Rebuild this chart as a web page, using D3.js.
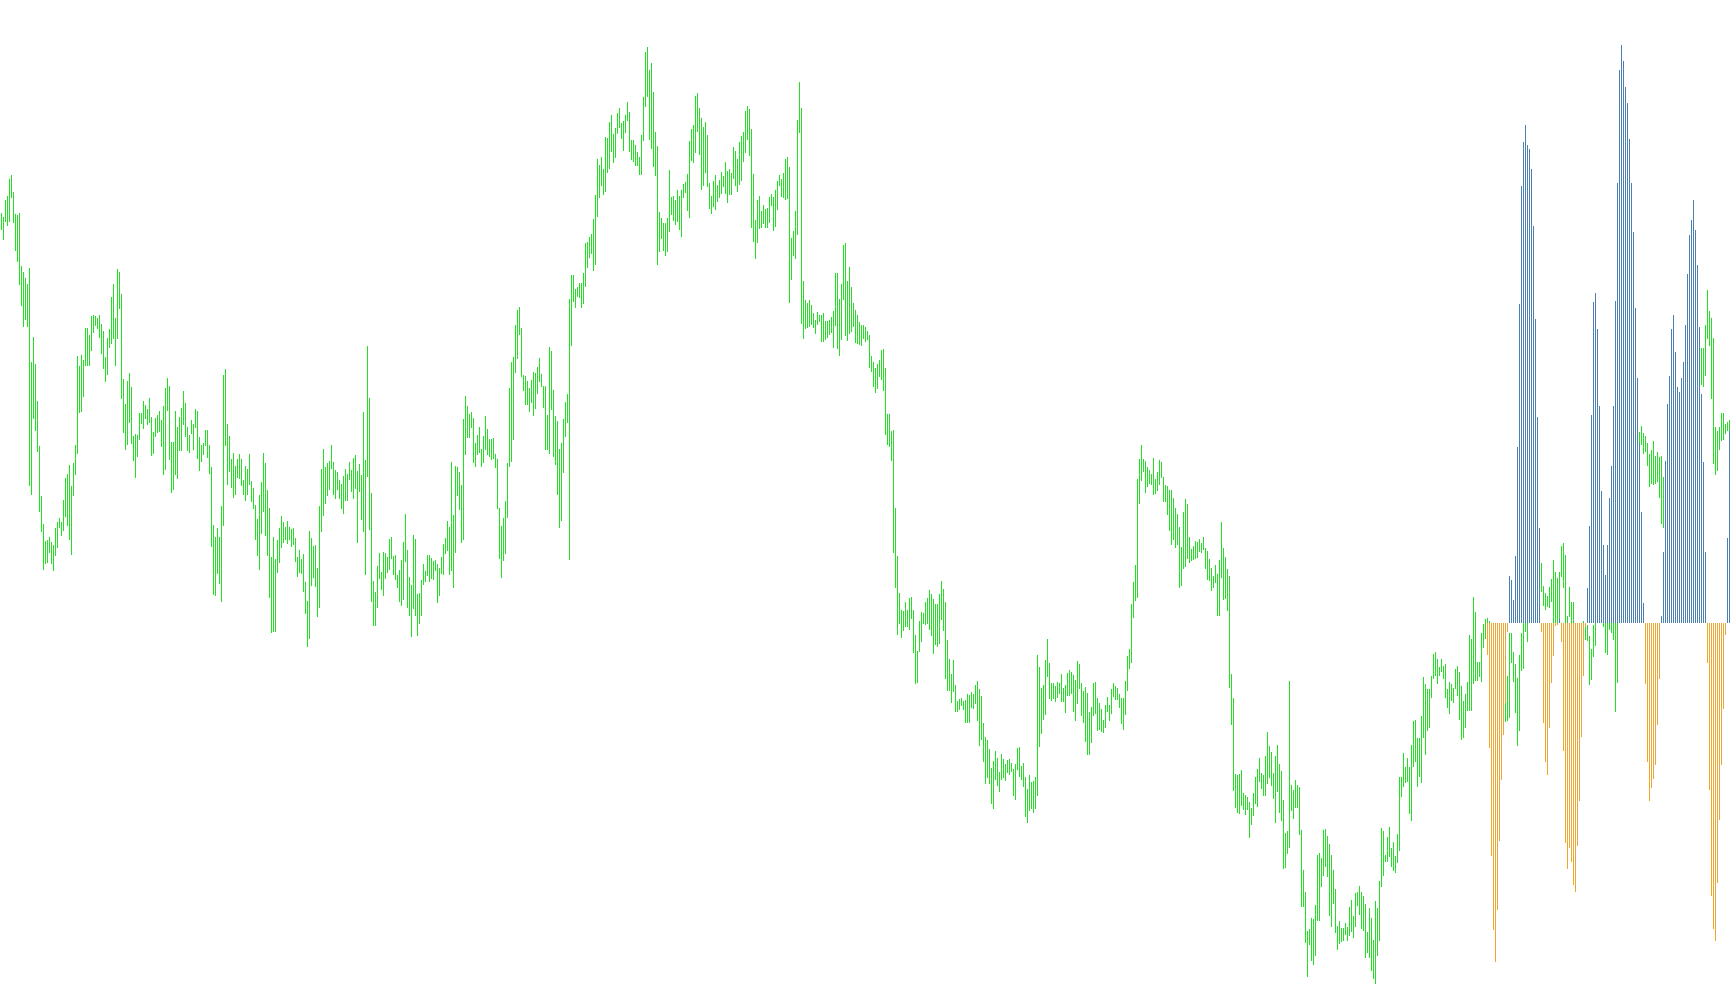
<!DOCTYPE html>
<html><head><meta charset="utf-8">
<script src="https://cdn.jsdelivr.net/npm/d3@7"></script>
<style>html,body{margin:0;padding:0;background:#fff;overflow:hidden}</style>
</head><body>
<svg id="chart" width="1730" height="1005"></svg>
<script>
// Daily high / low of the price series (one entry per bar)
const highs = [
2375,2363,2415,2427,2478,2490,2439,2373,2370,2376,
2217,2199,2181,2163,2211,1929,2004,1923,1812,1677,
1527,1443,1392,1395,1404,1389,1380,1431,1449,1461,
1449,1515,1581,1593,1620,1557,1626,1680,1947,1917,
1950,1935,2031,2031,2010,2067,2070,2067,2061,2070,
2043,2022,1944,2001,2028,2124,2163,2061,2208,2199,
2133,1878,1803,1872,1896,1854,1707,1713,1710,1776,
1776,1812,1800,1788,1821,1764,1719,1761,1770,1782,
1755,1797,1851,1881,1857,1689,1689,1782,1734,1764,
1791,1842,1806,1734,1710,1755,1743,1788,1782,1704,
1680,1686,1725,1725,1680,1614,1440,1404,1431,1404,
1497,1890,1908,1743,1707,1638,1656,1617,1638,1653,
1638,1575,1617,1608,1653,1572,1551,1500,1458,1530,
1569,1656,1626,1545,1491,1344,1404,1338,1395,1431,
1467,1449,1434,1452,1434,1428,1431,1401,1344,1365,
1338,1353,1269,1212,1422,1401,1377,1380,1311,1497,
1608,1668,1614,1626,1632,1680,1629,1605,1599,1575,
1563,1587,1608,1593,1629,1605,1641,1650,1602,1623,
1590,1779,1635,1977,1821,1536,1272,1239,1317,1356,
1299,1359,1356,1344,1398,1404,1347,1350,1290,1305,
1335,1389,1473,1365,1284,1260,1410,1398,1233,1236,
1275,1323,1302,1350,1350,1341,1332,1335,1323,1311,
1344,1383,1401,1452,1434,1629,1470,1617,1614,1599,
1560,1758,1827,1797,1773,1779,1761,1686,1710,1734,
1668,1707,1767,1728,1698,1698,1701,1653,1638,1491,
1437,1461,1512,1626,1851,1929,1944,2040,2085,2094,
2030,1891,1887,1872,1850,1875,1900,1897,1915,1940,
1894,1856,1856,1770,1974,1962,1844,1767,1751,1667,
1686,1757,1810,1832,2117,2191,2191,2148,2154,2166,
2166,2197,2287,2290,2303,2312,2359,2430,2538,2520,
2545,2507,2604,2600,2650,2669,2613,2631,2675,2690,
2647,2653,2669,2709,2678,2594,2594,2579,2560,2545,
2610,2724,2858,2873,2805,2827,2740,2619,2576,2380,
2362,2346,2346,2362,2504,2424,2427,2414,2445,2427,
2445,2464,2470,2492,2591,2628,2641,2727,2736,2691,
2661,2634,2649,2610,2466,2427,2472,2490,2460,2475,
2499,2487,2529,2502,2508,2496,2574,2562,2538,2589,
2607,2619,2682,2697,2688,2628,2493,2355,2415,2427,
2382,2400,2388,2391,2424,2433,2424,2445,2472,2490,
2478,2496,2538,2544,2514,2301,2322,2382,2655,2769,
2691,2172,2115,2106,2115,2100,2076,2055,2079,2070,
2070,2076,2052,2052,2055,2064,2082,2196,2196,2118,
2163,2280,2286,2172,2214,2154,2106,2085,2070,2049,
2040,2040,2034,2022,2010,1947,1929,1911,1923,1935,
1965,1968,1911,1773,1773,1722,1725,1491,1347,1236,
1185,1182,1209,1185,1221,1224,1185,1110,1062,1152,
1179,1176,1209,1221,1245,1233,1218,1203,1203,1233,
1272,1248,1209,1095,1038,993,1035,960,912,918,
921,912,915,933,930,939,933,960,972,948,
927,846,804,795,768,711,732,762,741,699,
753,738,723,735,738,726,708,723,771,774,
717,726,684,648,690,669,672,684,1050,1014,
951,960,1035,1098,1026,966,966,957,969,966,
993,951,960,996,1005,999,990,975,1032,1023,
966,942,954,936,879,894,966,969,921,906,
888,855,900,924,900,948,966,957,951,933,
921,921,972,1047,1068,1203,1269,1320,1578,1638,
1680,1638,1632,1614,1605,1593,1641,1578,1599,1635,
1629,1584,1560,1557,1545,1545,1521,1491,1473,1434,
1374,1479,1518,1503,1404,1368,1377,1392,1389,1398,
1386,1404,1371,1362,1338,1311,1287,1320,1293,1335,
1449,1371,1344,1308,1287,993,921,693,690,693,
705,636,630,624,609,591,636,684,708,741,
696,690,747,819,777,759,696,747,780,723,
702,615,516,522,972,660,645,675,660,654,
525,405,339,222,228,261,258,300,450,456,
441,525,528,507,483,450,405,348,237,252,
231,231,246,234,294,315,267,336,339,357,
339,327,303,219,291,261,195,312,291,372,
531,522,450,504,534,471,488,447,513,685,
685,755,715,740,715,781,851,856,801,801,
866,983,962,947,947,988,1053,1058,1038,1013,
1038,1018,1023,947,968,962,952,1008,1018,998,
957,912,932,968,1109,1099,1225,1180,1028,1028,
1116,1143,1158,1160,1152,1140,1120,1090,1060,1020,
990,960,921,987,1116,1116,1059,1023,980,1050,
1116,1180,1200,1190,1230,1260,1280,1300,1310,1330,
1326,1256,1237,1226,1254,1279,1335,1300,1281,1300,
1378,1386,1349,1168,1253,1210,1210,1140,1120,1100,
1080,1152,1134,1140,1106,1068,1140,1200,1260,1280,
1270,1230,1210,1190,1200,1200,1210,1230,1250,1300,
1380,1450,1520,1580,1640,1690,1720,1740,1750,1720,
1738,1717,1707,1685,1654,1664,1691,1648,1659,1643,
1648,1585,1633,1700,1760,1800,1830,1820,1800,1790,
1820,1850,1870,1900,1920,1940,1960,1950,1960,1980,
1971,1971,2039,2145,2082,2060,2002,1733,1722,1733,
1775,1775,1744,1749,1754
];
const lows = [
2325,2295,2349,2337,2349,2421,2346,2262,2229,2160,
2097,2034,2055,2034,1557,1530,1758,1722,1659,1479,
1419,1305,1323,1326,1356,1323,1302,1347,1371,1431,
1407,1422,1464,1437,1395,1350,1527,1590,1653,1776,
1779,1824,1917,1917,1917,1962,2016,2037,2028,2001,
1953,1908,1869,1890,1971,1983,1998,1917,1998,2088,
1818,1716,1665,1680,1746,1683,1632,1581,1644,1695,
1743,1728,1758,1740,1746,1647,1653,1704,1716,1719,
1674,1590,1605,1782,1635,1536,1545,1590,1578,1662,
1662,1740,1704,1662,1656,1713,1665,1731,1638,1602,
1629,1650,1677,1641,1593,1374,1230,1227,1293,1263,
1209,1437,1677,1560,1599,1551,1521,1530,1581,1578,
1557,1530,1512,1530,1560,1509,1488,1395,1347,1305,
1413,1479,1407,1347,1221,1116,1119,1119,1296,1326,
1371,1386,1395,1383,1395,1374,1380,1329,1284,1296,
1293,1239,1173,1074,1098,1257,1281,1254,1164,1191,
1419,1467,1503,1527,1545,1608,1530,1518,1545,1518,
1488,1473,1512,1512,1575,1539,1518,1548,1386,1539,
1455,1419,1290,1584,1425,1209,1137,1137,1191,1278,
1245,1227,1278,1296,1305,1338,1290,1275,1251,1209,
1197,1215,1329,1191,1167,1104,1188,1167,1107,1143,
1167,1260,1269,1287,1269,1278,1275,1302,1206,1227,
1293,1290,1353,1362,1290,1302,1251,1356,1527,1485,
1386,1395,1650,1701,1701,1731,1626,1614,1650,1656,
1614,1626,1665,1650,1644,1635,1638,1611,1488,1338,
1281,1332,1353,1461,1614,1629,1695,1896,1938,2010,
1884,1841,1801,1801,1779,1807,1767,1788,1832,1869,
1853,1791,1664,1664,1652,1785,1643,1621,1531,1432,
1453,1596,1705,1745,1336,1977,2108,2092,2123,2120,
2092,2104,2154,2210,2241,2253,2201,2219,2365,2421,
2458,2430,2439,2495,2507,2560,2526,2542,2613,2631,
2597,2563,2616,2653,2560,2535,2529,2517,2517,2489,
2489,2591,2693,2724,2594,2569,2514,2486,2219,2259,
2297,2263,2247,2259,2318,2371,2352,2340,2349,2325,
2303,2421,2436,2383,2362,2532,2526,2556,2619,2550,
2445,2457,2496,2454,2388,2373,2394,2385,2409,2421,
2433,2454,2433,2406,2430,2430,2478,2457,2439,2460,
2472,2529,2556,2595,2547,2331,2289,2238,2286,2328,
2331,2343,2331,2331,2346,2397,2322,2334,2385,2457,
2424,2421,2415,2418,2106,2175,2247,2238,2310,2616,
2043,1998,2028,2031,2034,2040,2031,2013,2040,2049,
1989,1989,1995,2001,2010,2016,1971,2037,1968,1947,
1995,2115,2007,1992,2013,2019,2034,1986,1983,1980,
1977,1998,1989,1995,1911,1899,1854,1836,1848,1884,
1875,1842,1710,1680,1674,1632,1356,1251,1110,1143,
1101,1122,1134,1134,1125,1158,1056,963,966,1059,
1089,1143,1140,1143,1125,1107,1053,1080,1074,1083,
1155,1122,978,942,942,906,939,879,879,885,
897,885,846,846,846,891,888,903,852,777,
795,729,663,681,663,603,588,675,657,639,
675,681,672,696,690,699,627,615,705,684,
675,654,564,546,582,588,576,588,627,774,
813,855,870,984,918,912,918,909,921,933,
909,909,876,927,927,933,879,852,903,948,
867,846,789,750,750,786,867,873,822,825,
819,816,831,879,852,873,924,915,915,891,
843,825,870,942,1008,1026,1161,1212,1221,1503,
1572,1599,1536,1554,1563,1560,1530,1533,1542,1560,
1581,1509,1509,1470,1422,1380,1395,1371,1380,1251,
1257,1308,1314,1338,1326,1332,1335,1338,1341,1359,
1356,1365,1308,1275,1272,1242,1251,1266,1167,1167,
1281,1215,1218,1182,951,840,642,591,576,573,
597,585,570,585,501,540,567,603,594,669,
648,627,627,663,681,657,618,546,639,576,
552,408,411,453,471,582,558,591,591,510,
294,294,186,84,180,132,120,147,252,252,
354,387,414,384,267,234,303,216,165,183,
189,192,210,192,207,219,201,234,297,270,
228,222,141,156,141,102,78,63,147,192,
354,387,429,429,444,414,402,397,427,462,
624,654,665,670,574,553,715,730,654,685,
665,801,750,821,831,922,978,988,962,988,
998,978,922,892,872,912,907,947,927,856,
796,801,831,882,882,882,962,973,973,983,
969,1071,1098,1100,1090,1070,1040,1000,960,930,
900,880,849,852,861,1026,969,876,777,822,
1002,1008,1119,1089,1150,1170,1190,1210,1220,1240,
1239,1198,1185,1195,1190,1210,1127,1140,1146,1154,
1285,1252,1120,1100,1164,1120,1110,1060,1040,1020,
1000,1050,1095,1092,961,974,1045,1077,1160,1180,
1170,1134,1056,1051,1125,1115,1095,880,966,1180,
1250,1320,1400,1460,1520,1580,1620,1650,1670,1660,
1680,1654,1659,1617,1553,1564,1559,1564,1569,1522,
1443,1432,1500,1580,1640,1690,1720,1700,1690,1680,
1700,1740,1760,1790,1810,1830,1850,1840,1850,1870,
1860,1855,1886,1997,1976,1818,1622,1590,1601,1664,
1691,1696,1712,1722,1722
];
// Oscillator histogram, starting at bar index oscStart
const oscStart = 743;
const oscValues = [
-3.2,-12.5,-23.3,-30.7,-33.9,-28.7,-21.8,-15.7,-11.2,-8.0,
-0.9,4.7,4.3,2.3,6.7,17.6,31.9,43.7,48.1,49.8,
47.8,47.4,45.4,39.7,30.4,20.6,9.5,-0.9,-10.0,-13.9,
-15.2,-10.5,-6.0,-3.3,-0.3,-0.2,0.4,-1.9,-12.8,-22.0,
-24.6,-22.5,-23.9,-26.2,-26.9,-22.3,-17.8,-11.4,-5.3,-0.4,
3.5,9.7,20.8,32.1,33.0,29.4,21.7,13.2,7.8,4.8,
7.8,12.5,15.7,21.7,32.2,44.0,55.3,57.8,56.2,53.6,
52.0,48.4,44.0,39.1,31.5,24.5,18.0,11.1,2.0,-6.1,
-13.9,-17.8,-16.5,-15.6,-14.2,-10.2,-5.6,0.7,7.1,16.2,
21.9,24.7,29.4,30.8,27.1,23.6,23.1,24.5,26.1,29.8,
34.9,38.8,40.3,42.3,39.3,35.8,29.6,22.9,16.1,7.1,
-4.0,-16.7,-27.3,-30.6,-31.8,-26.0,-19.7,-14.2,-8.6,-1.2,
8.5,19.2
];

const W = 1730, H = 1005;
const n = highs.length;
const bars = highs.map((h, i) => ({ i, high: h, low: lows[i] }));
const osc = oscValues.map((v, j) => ({ i: oscStart + j, v }));

const x = d3.scaleLinear().domain([0, n - 1]).range([1, 1 + 2 * (n - 1)]);
const y = d3.scaleLinear().domain([0, 3015]).range([H, 0]);
const yOsc = d3.scaleLinear().domain([-38.2, 62.3]).range([H, 0]);

const svg = d3.select('#chart').attr('shape-rendering', 'crispEdges');

svg.append('g').selectAll('rect').data(bars).join('rect')
  .attr('x', d => x(d.i))
  .attr('width', 1)
  .attr('y', d => Math.round(y(d.high)))
  .attr('height', d => Math.max(1, Math.round(y(d.low)) - Math.round(y(d.high))))
  .attr('fill', '#22e022');

svg.append('g').selectAll('rect').data(osc).join('rect')
  .attr('x', d => x(d.i))
  .attr('width', 1)
  .attr('y', d => Math.round(d.v >= 0 ? yOsc(d.v) : yOsc(0)))
  .attr('height', d => Math.max(1, Math.round(Math.abs(yOsc(d.v) - yOsc(0)))))
  .attr('fill', d => d.v >= 0 ? '#4a80b3' : '#f2a52c');
</script>
</body></html>
